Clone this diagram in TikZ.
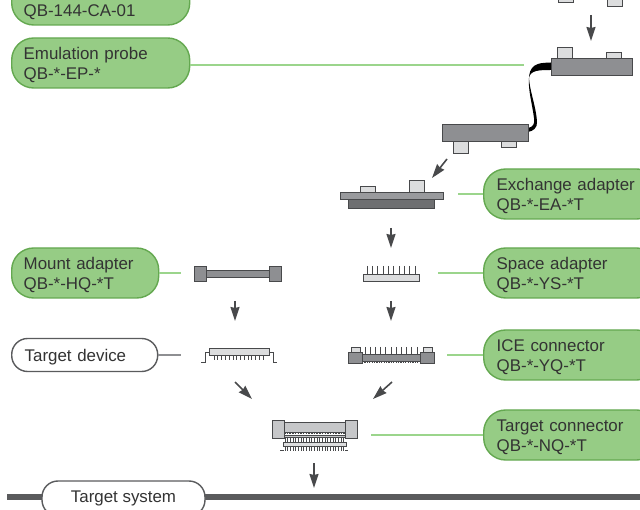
\documentclass[tikz,border=0pt]{standalone}
\usepackage{fontspec}
\setmainfont{Liberation Sans}
\usetikzlibrary{arrows.meta}
\definecolor{boxgreen}{HTML}{96CC85}
\definecolor{edgegreen}{HTML}{64A850}
\definecolor{leadgreen}{HTML}{9BD58C}
\definecolor{partdark}{HTML}{48494B}
\definecolor{partmid}{HTML}{8E8F92}
\definecolor{partlow}{HTML}{6E6F71}
\definecolor{partlight}{HTML}{DCDDDE}
\definecolor{partsoft}{HTML}{C6C7C9}
\definecolor{inktext}{HTML}{333333}
\tikzset{
  x=1pt, y=-1pt,
  labelbox/.style={rounded corners=22pt, draw, line width=1.4pt, anchor=west, align=left,
    inner xsep=12pt, inner ysep=0pt, text=inktext, font=\fontsize{16.9}{20}\selectfont},
  lowered/.style={execute at begin node={\rule{0pt}{16.3pt}}},
  greenbox/.style={labelbox, lowered, fill=boxgreen, draw=edgegreen, minimum height=50pt},
  whitebox/.style={labelbox, fill=white, draw=partdark!90, rounded corners=16pt, minimum height=33pt},
  part/.style={draw=partdark, line width=0.9pt, inner sep=0pt, outer sep=0pt, anchor=north west},
  partm/.style={part, fill=partmid},
  partl/.style={part, fill=partlight},
  leadg/.style={leadgreen, line width=1.4pt},
  leadk/.style={partmid, line width=1.4pt},
  flow/.style={partdark, line width=1.6pt, -{Stealth[length=14pt,width=9pt,inset=1pt]}},
  pin/.style={partdark, line width=0.7pt}
}
% px box: corner, width, height
\newcommand{\partbox}[6]{\node[#1, minimum width=#5pt, minimum height=#6pt] (#2) at (#3,#4) {};}
\begin{document}
\begin{tikzpicture}
  \useasboundingbox (0,0) rectangle (640,510);
  \clip (0,0) rectangle (640,510);

  % bar behind the system label
  \fill[partdark!90] (7,494) rectangle (640,500);

  % labels
  \node[greenbox, text width=154pt] (checkpin) at (11,0) {(S and T)\\QB-144-CA-01};
  \node[greenbox, text width=154pt] (emuprobe) at (11,63) {Emulation probe\\QB-*-EP-*};
  \node[greenbox, text width=123pt] (mountad) at (11,273) {Mount adapter\\QB-*-HQ-*T};
  \node[whitebox, lowered, text width=120pt, inner xsep=13pt] (tdevice) at (11,355) {Target device};
  \node[greenbox, text width=149pt, inner xsep=13pt] (exchad) at (483,194) {Exchange adapter\\QB-*-EA-*T};
  \node[greenbox, text width=149pt, inner xsep=13pt] (spacead) at (483,273) {Space adapter\\QB-*-YS-*T};
  \node[greenbox, text width=149pt, inner xsep=13pt] (iceconn) at (483,355) {ICE connector\\QB-*-YQ-*T};
  \node[greenbox, text width=149pt, inner xsep=13pt] (tconn) at (483,435) {Target connector\\QB-*-NQ-*T};
  \node[whitebox, anchor=center, minimum width=163pt, minimum height=35pt] (tsystem) at (123.5,498.5) {Target system};

  % top probe stubs
  \partbox{partl}{stubA}{558}{-10}{15}{12}
  \partbox{partl}{stubB}{607}{-6}{15}{12}

  % probe, upper and lower block
  \fill[black] (551,62.5) .. controls (542,63) and (531,62) .. (529,76)
    .. controls (529,90) and (536,105) .. (537,122)
    .. controls (537.5,128) and (533,131) .. (528,132) -- (528,128)
    .. controls (533,127) and (535,124) .. (534,118)
    .. controls (532,103) and (528,90) .. (529,78)
    .. controls (530,70) and (540,70) .. (551,70) -- cycle;
  \partbox{partl}{probeA}{557.5}{47}{15}{11}
  \partbox{partl}{probeB}{606}{52}{15}{6}
  \partbox{partm}{probeup}{551}{58}{81}{17}
  \partbox{partl}{probeC}{453.5}{141}{15}{12}
  \partbox{partl}{probeD}{501}{141}{15}{6}
  \partbox{partm}{probelow}{442}{124}{86}{17}

  % exchange adapter
  \partbox{partl}{exchA}{360}{186}{15}{6}
  \partbox{partl}{exchB}{409}{180}{15}{12}
  \partbox{part, fill=partlow}{exchlow}{348}{199}{86}{9}
  \partbox{part, fill=partmid!90!white}{exchplate}{340}{192}{103}{7}

  % space adapter
  \foreach \i in {0,...,9}
    \draw[pin] (367+\i*5.33,266) -- (367+\i*5.33,274);
  \partbox{partl}{spaceplate}{363}{274}{56}{7}

  % mount adapter
  \partbox{partm}{mountbar}{206}{270}{63}{7}
  \partbox{partm}{mountL}{194}{266}{12}{15}
  \partbox{partm}{mountR}{269}{266}{12}{15}

  % target device
  \foreach \i in {0,...,13}
    \draw[pin] (214+\i*3.77,355) -- (214+\i*3.77,360);
  \draw[pin] (209,352) -- (205,352) -- (205,362) -- (201,362);
  \draw[pin] (269,352) -- (273,352) -- (273,362) -- (277,362);
  \partbox{partl}{devbody}{209}{348}{60}{7}

  % ICE connector
  \foreach \i in {0,...,10}
    \draw[pin] (365+\i*5.2,347) -- (365+\i*5.2,354);
  \draw[partdark, line width=1.5pt, dash pattern=on 1.2pt off 1.2pt] (362,362.2) -- (420,362.2);
  \partbox{partm}{icebar}{362}{354}{58}{7}
  \partbox{partl}{iceA}{351}{347}{9}{5}
  \partbox{partl}{iceB}{423}{347}{9}{5}
  \partbox{partm}{iceL}{348}{352}{14}{11}
  \partbox{partm}{iceR}{420}{352}{14}{11}

  % target connector
  \partbox{part, fill=partsoft}{conntop}{284}{422}{61}{10}
  \draw[partdark, line width=1.5pt, dash pattern=on 1.5pt off 1.2pt] (284,433.6) -- (345,433.6);
  \partbox{part, fill=partsoft}{connmid}{284}{435}{61}{2}
  \foreach \i in {0,...,22} {
    \draw[pin, line width=0.6pt] (285+\i*2.66,437) -- (285+\i*2.66,442);
    \draw[pin, line width=0.6pt] (285+\i*2.66,446) -- (285+\i*2.66,451);
  }
  \partbox{partl}{connplate}{283}{442}{63}{4}
  \draw[pin] (280,450.5) -- (284,450.5) (345,450.5) -- (348,450.5);
  \partbox{part, fill=partsoft}{connL}{272}{420}{12}{18}
  \partbox{part, fill=partsoft}{connR}{345}{420}{12}{18}

  % leader ends
  \coordinate (emuend) at (524,65);
  \coordinate (exchend) at (458,194);
  \coordinate (spaceend) at (438,273);
  \coordinate (iceend) at (447,355);
  \coordinate (tconnend) at (371,435);
  \coordinate (mountend) at (181,273);
  \coordinate (devend) at (181,355);
  \draw[leadg] (emuprobe.east |- emuend) -- (emuend);
  \draw[leadg] (exchad.west) -- (exchend);
  \draw[leadg] (spacead.west) -- (spaceend);
  \draw[leadg] (iceconn.west) -- (iceend);
  \draw[leadg] (tconn.west) -- (tconnend);
  \draw[leadg] (mountad.east) -- (mountend);
  \draw[leadk] (tdevice.east) -- (devend);

  % arrows between the parts
  \coordinate (fa1) at (591,15);  \coordinate (fa2) at (591,41);
  \coordinate (fb1) at (447,159); \coordinate (fb2) at (432,178);
  \coordinate (fc1) at (391,228); \coordinate (fc2) at (391,248);
  \coordinate (fd1) at (391,301); \coordinate (fd2) at (391,321);
  \coordinate (fe1) at (235,301); \coordinate (fe2) at (235,321);
  \coordinate (ff1) at (235,382); \coordinate (ff2) at (252,399);
  \coordinate (fg1) at (392,382); \coordinate (fg2) at (373,399);
  \coordinate (fh1) at (314,463); \coordinate (fh2) at (314,488);
  \foreach \n in {a,b,c,d,e,f,g,h}
    \draw[flow] (f\n1) -- (f\n2);
\end{tikzpicture}
\end{document}
